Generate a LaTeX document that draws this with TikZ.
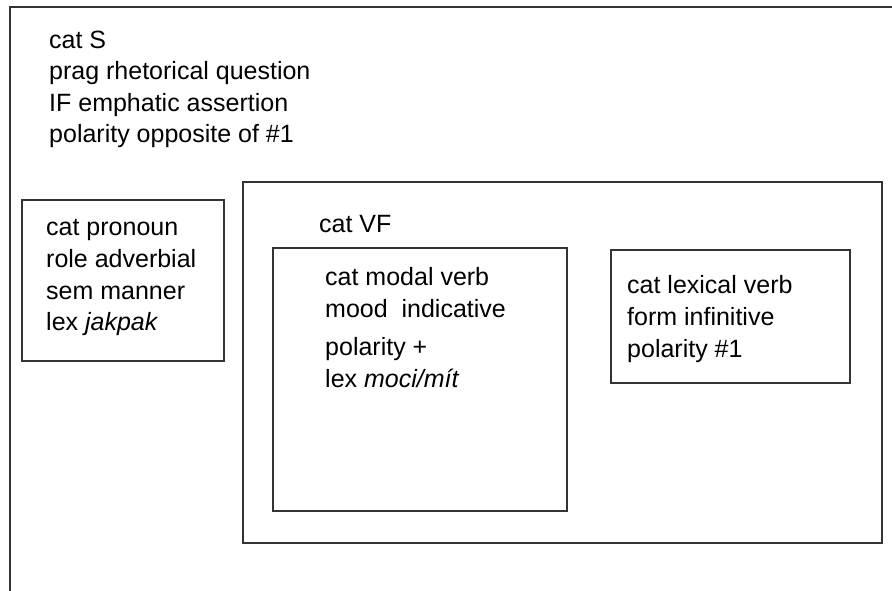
\documentclass[tikz,border=0pt]{standalone}
\usepackage{fontspec}
\setmainfont{Liberation Sans}
\usetikzlibrary{positioning}

\begin{document}
\begin{tikzpicture}[x=1pt,y=-1pt, every node/.style={font=\fontsize{25}{30}\selectfont, anchor=base west, inner sep=0pt},
    frame/.style={draw=black!80, line width=1.3pt}]
  \useasboundingbox (0,0) rectangle (892,591);
  % outer S frame is open to the right and below
  \draw[frame] (892,7) -- (10,7) -- (10,591);
  \draw[frame] (22,200) rectangle (224,361);
  \draw[frame] (243,182) rectangle (882,543);
  \draw[frame] (273,248) rectangle (567,511);
  \draw[frame] (611,250) rectangle (850,383);
  \foreach \n/\x/\y/\txt in {
    s1/49/49/cat S,
    s2/49/80/prag rhetorical question,
    s3/49/112/IF emphatic assertion,
    s4/49/143/polarity opposite of \#1,
    pro1/46/235/cat pronoun,
    pro2/46/267/role adverbial,
    pro3/46/299/sem manner,
    pro4/46/330/{lex \textit{jakpak}},
    vf/319/233/cat VF,
    mod1/325/285/cat modal verb,
    mod2/325/317/mood\ \ indicative,
    mod3/325/355/polarity +,
    mod4/325/387/{lex \textit{moci/mít}},
    lex1/627/293/cat lexical verb,
    lex2/627/325/form infinitive,
    lex3/627/357/polarity \#1}{
      \node (\n) at (\x,\y) {\txt};
  }
\end{tikzpicture}
\end{document}
